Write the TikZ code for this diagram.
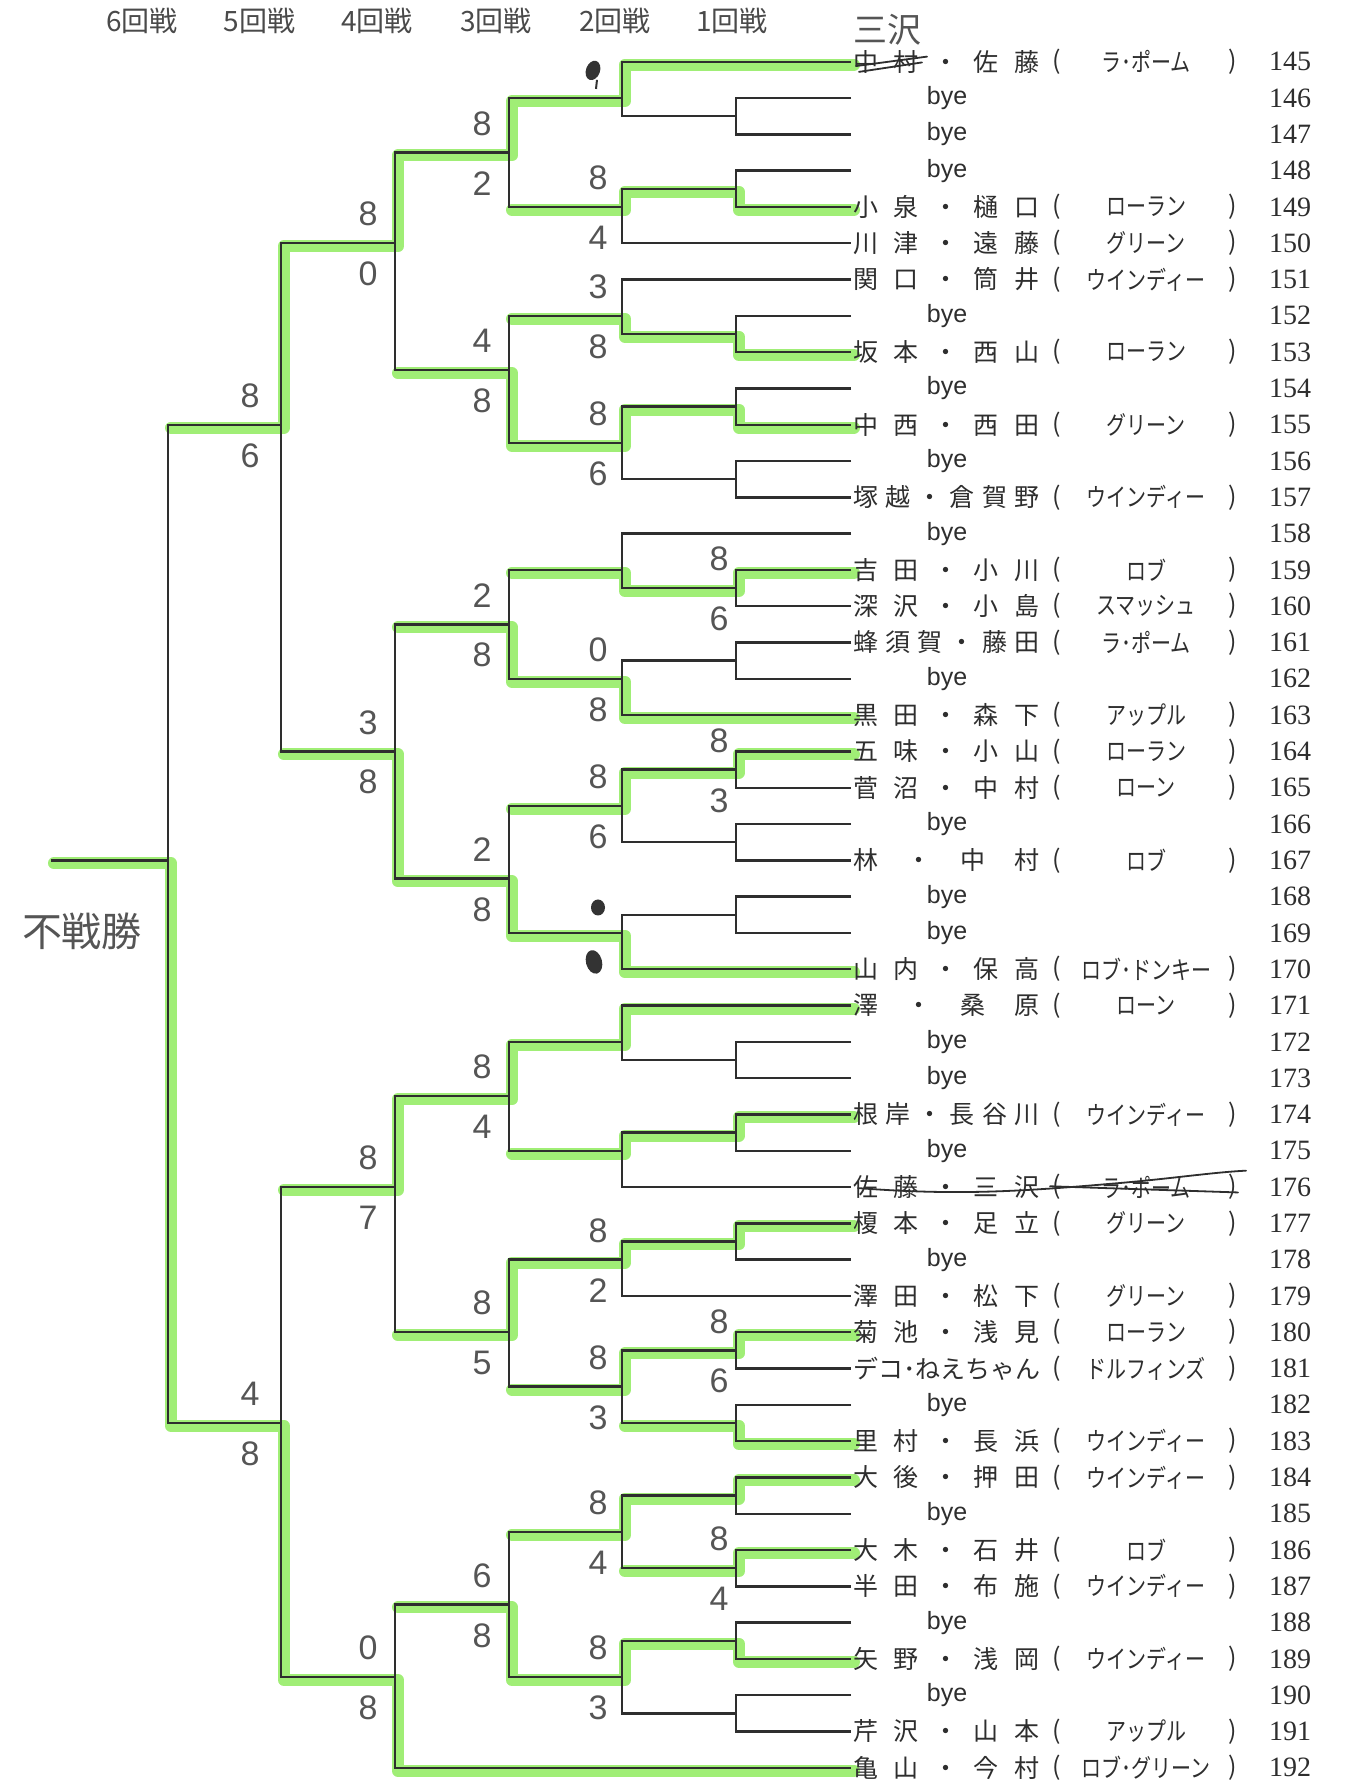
\documentclass[tikz,border=0pt]{standalone}
\usepackage{fontspec}
\usepackage{graphicx}
\usetikzlibrary{calc}
\newfontfamily\jp{Noto Sans CJK JP}
\newfontfamily\lsans{Liberation Sans}
\newfontfamily\lserif{Liberation Serif}
\definecolor{ink}{HTML}{2E2E2E}
\definecolor{hl}{RGB}{160,238,118}
\definecolor{hand}{HTML}{555555}
\definecolor{hdr}{HTML}{4A4A4A}
\tikzset{
 bline/.style={draw=ink, line width=2.4pt, line join=miter},
 hlline/.style={draw=hl, line width=12pt, line cap=round, line join=round},
 namebox/.style={anchor=west, inner sep=0pt, text=ink, font=\jp\fontsize{25pt}{25pt}\selectfont},
 jptext/.style={inner sep=0pt, text=ink, font=\jp\fontsize{25pt}{25pt}\selectfont},
 numlab/.style={inner sep=0pt, text=ink, font=\lserif\fontsize{28pt}{28pt}\selectfont},
 byelab/.style={inner sep=0pt, text=ink, font=\lsans\fontsize{25pt}{25pt}\selectfont},
 score/.style={inner sep=0pt, text=hand, font=\lsans\fontsize{34pt}{34pt}\selectfont},
 hdrlab/.style={inner sep=0pt, text=hdr, font=\jp\fontsize{28pt}{28pt}\selectfont},
 handjp/.style={inner sep=0pt, text=hand, font=\jp\fontsize{34pt}{34pt}\selectfont},
 strike/.style={draw=ink, line width=1.8pt, line cap=round},
}
\newcommand{\entry}[3]{%
  \node[namebox] (nm#1) at (853,#1) {\makebox[186pt][s]{#2}};
  \node[jptext] (pl#1) at (1057,#1) {(};
  \node[jptext] (tm#1) at (1146,#1) {\scalebox{0.8}[1]{#3}};
  \node[jptext] (pr#1) at (1233,#1) {)};
  \node[numlab] (no#1) at (1290,#1) {\number\numexpr145+#1\relax};
}
\newcommand{\byeentry}[1]{%
  \node[byelab] (by#1) at (947,#1) {bye};
  \node[numlab] (no#1) at (1290,#1) {\number\numexpr145+#1\relax};
}
\newcommand{\match}[3]{\draw[bline] (#2) -- (#2 -| #1) -- (#3 -| #1) -- (#3);}
\newcommand{\scorepair}[4]{%
  \node[score] (#1u) at ($(#1)+(-#2,-0.8)$) {#3};
  \node[score] (#1l) at ($(#1)+(-#2,0.85)$) {#4};
}
\begin{document}
\begin{tikzpicture}[x=1pt,y=-36.3pt]
\useasboundingbox[fill=white] (0,-1.6997) rectangle (1350,47.364);
% row ends
\foreach \i in {0,...,47} {\coordinate (r\i) at (851,\i);}
% round 1
\coordinate (a1) at (736,1.5);  \coordinate (a2) at (736,3.5);
\coordinate (a3) at (736,7.5);  \coordinate (a4) at (736,9.5);
\coordinate (a5) at (736,11.5); \coordinate (a6) at (736,14.5);
\coordinate (a7) at (736,16.5); \coordinate (a8) at (736,19.5);
\coordinate (a9) at (736,21.5); \coordinate (a10) at (736,23.5);
\coordinate (a11) at (736,27.5); \coordinate (a12) at (736,29.5);
\coordinate (a13) at (736,32.5); \coordinate (a14) at (736,35.5);
\coordinate (a15) at (736,37.5); \coordinate (a16) at (736,39.5);
\coordinate (a17) at (736,41.5); \coordinate (a18) at (736,43.5);
\coordinate (a19) at (736,45.5);
% round 2
\coordinate (b1) at (622,1.0);  \coordinate (b2) at (622,4.0);
\coordinate (b3) at (622,7.0);  \coordinate (b4) at (622,10.5);
\coordinate (b5) at (622,14.0); \coordinate (b6) at (622,17.0);
\coordinate (b7) at (622,20.5); \coordinate (b8) at (622,24.0);
\coordinate (b9) at (622,27.0); \coordinate (b10) at (622,30.0);
\coordinate (b11) at (622,33.0); \coordinate (b12) at (622,36.5);
\coordinate (b13) at (622,40.5); \coordinate (b14) at (622,44.5);
% round 3
\coordinate (c1) at (509,2.5);  \coordinate (c2) at (509,8.5);
\coordinate (c3) at (509,15.5); \coordinate (c4) at (509,22.5);
\coordinate (c5) at (509,28.5); \coordinate (c6) at (509,35.0);
\coordinate (c7) at (509,42.5);
% round 4
\coordinate (d1) at (395,5.0);  \coordinate (d2) at (395,19.0);
\coordinate (d3) at (395,31.0); \coordinate (d4) at (395,44.5);
% round 5, 6
\coordinate (e1) at (281,10.0); \coordinate (e2) at (281,37.5);
\coordinate (f) at (168,22.0);
\coordinate (champ) at (51,22.0);

% ---------- highlighter ----------
\begin{scope}[transform canvas={xshift=3pt,yshift=-3pt}]
\draw[hlline] (r0) -- (r0 -| b1) -- (b1) -- (b1 -| c1) -- (c1) -- (c1 -| d1) -- (d1) -- (d1 -| e1) -- (e1) -- (e1 -| f);
\draw[hlline] (r4) -- (r4 -| a2) -- (a2) -- (a2 -| b2) -- (b2) -- (b2 -| c1);
\draw[hlline] (r8) -- (r8 -| a3) -- (a3) -- (a3 -| b3) -- (b3) -- (b3 -| c2);
\draw[hlline] (r10) -- (r10 -| a4) -- (a4) -- (a4 -| b4) -- (b4) -- (b4 -| c2) -- (c2) -- (c2 -| d1);
\draw[hlline] (r14) -- (r14 -| a6) -- (a6) -- (a6 -| b5) -- (b5) -- (b5 -| c3);
\draw[hlline] (r18) -- (r18 -| b6) -- (b6) -- (b6 -| c3) -- (c3) -- (c3 -| d2);
\draw[hlline] (r19) -- (r19 -| a8) -- (a8) -- (a8 -| b7) -- (b7) -- (b7 -| c4);
\draw[hlline] (r25) -- (r25 -| b8) -- (b8) -- (b8 -| c4) -- (c4) -- (c4 -| d2) -- (d2) -- (d2 -| e1);
\draw[hlline] (r26) -- (r26 -| b9) -- (b9) -- (b9 -| c5) -- (c5) -- (c5 -| d3) -- (d3) -- (d3 -| e2);
\draw[hlline] (r29) -- (r29 -| a12) -- (a12) -- (a12 -| b10) -- (b10) -- (b10 -| c5);
\draw[hlline] (r32) -- (r32 -| a13) -- (a13) -- (a13 -| b11) -- (b11) -- (b11 -| c6) -- (c6) -- (c6 -| d3);
\draw[hlline] (r35) -- (r35 -| a14) -- (a14) -- (a14 -| b12) -- (b12) -- (b12 -| c6);
\draw[hlline] (r38) -- (r38 -| a15) -- (a15) -- (a15 -| b12);
\draw[hlline] (r39) -- (r39 -| a16) -- (a16) -- (a16 -| b13) -- (b13) -- (b13 -| c7);
\draw[hlline] (r41) -- (r41 -| a17) -- (a17) -- (a17 -| b13);
\draw[hlline] (r44) -- (r44 -| a18) -- (a18) -- (a18 -| b14) -- (b14) -- (b14 -| c7) -- (c7) -- (c7 -| d4);
\draw[hlline] (r47) -- (r47 -| d4) -- (d4) -- (d4 -| e2) -- (e2) -- (e2 -| f) -- (f) -- (champ);
\end{scope}

% ---------- bracket ----------
\match{a1}{r1}{r2}   \match{a2}{r3}{r4}   \match{a3}{r7}{r8}
\match{a4}{r9}{r10}  \match{a5}{r11}{r12} \match{a6}{r14}{r15}
\match{a7}{r16}{r17} \match{a8}{r19}{r20} \match{a9}{r21}{r22}
\match{a10}{r23}{r24} \match{a11}{r27}{r28} \match{a12}{r29}{r30}
\match{a13}{r32}{r33} \match{a14}{r35}{r36} \match{a15}{r37}{r38}
\match{a16}{r39}{r40} \match{a17}{r41}{r42} \match{a18}{r43}{r44}
\match{a19}{r45}{r46}
\match{b1}{r0}{a1}   \match{b2}{a2}{r5}   \match{b3}{r6}{a3}
\match{b4}{a4}{a5}   \match{b5}{r13}{a6}  \match{b6}{a7}{r18}
\match{b7}{a8}{a9}   \match{b8}{a10}{r25} \match{b9}{r26}{a11}
\match{b10}{a12}{r31} \match{b11}{a13}{r34} \match{b12}{a14}{a15}
\match{b13}{a16}{a17} \match{b14}{a18}{a19}
\match{c1}{b1}{b2} \match{c2}{b3}{b4} \match{c3}{b5}{b6} \match{c4}{b7}{b8}
\match{c5}{b9}{b10} \match{c6}{b11}{b12} \match{c7}{b13}{b14}
\match{d1}{c1}{c2} \match{d2}{c3}{c4} \match{d3}{c5}{c6} \match{d4}{c7}{r47}
\match{e1}{d1}{d2} \match{e2}{d3}{d4}
\match{f}{e1}{e2}
\draw[bline] (f) -- (champ);

% ---------- header ----------
\node[hdrlab] (h6) at (142,-1.135) {6回戦};
\node[hdrlab] (h5) at (259.5,-1.135) {5回戦};
\node[hdrlab] (h4) at (377,-1.135) {4回戦};
\node[hdrlab] (h3) at (496,-1.135) {3回戦};
\node[hdrlab] (h2) at (615,-1.135) {2回戦};
\node[hdrlab] (h1) at (732,-1.135) {1回戦};

% ---------- entries ----------
\entry{0}{中\hfill 村\hfill ・\hfill 佐\hfill 藤}{ラ･ポーム}
\byeentry{1} \byeentry{2} \byeentry{3}
\entry{4}{小\hfill 泉\hfill ・\hfill 樋\hfill 口}{ローラン}
\entry{5}{川\hfill 津\hfill ・\hfill 遠\hfill 藤}{グリーン}
\entry{6}{関\hfill 口\hfill ・\hfill 筒\hfill 井}{ウインディー}
\byeentry{7}
\entry{8}{坂\hfill 本\hfill ・\hfill 西\hfill 山}{ローラン}
\byeentry{9}
\entry{10}{中\hfill 西\hfill ・\hfill 西\hfill 田}{グリーン}
\byeentry{11}
\entry{12}{塚\hfill 越\hfill ・\hfill 倉\hfill 賀\hfill 野}{ウインディー}
\byeentry{13}
\entry{14}{吉\hfill 田\hfill ・\hfill 小\hfill 川}{ロブ}
\entry{15}{深\hfill 沢\hfill ・\hfill 小\hfill 島}{スマッシュ}
\entry{16}{蜂\hfill 須\hfill 賀\hfill ・\hfill 藤\hfill 田}{ラ･ポーム}
\byeentry{17}
\entry{18}{黒\hfill 田\hfill ・\hfill 森\hfill 下}{アップル}
\entry{19}{五\hfill 味\hfill ・\hfill 小\hfill 山}{ローラン}
\entry{20}{菅\hfill 沼\hfill ・\hfill 中\hfill 村}{ローン}
\byeentry{21}
\entry{22}{林\hfill ・\hfill 中\hfill 村}{ロブ}
\byeentry{23} \byeentry{24}
\entry{25}{山\hfill 内\hfill ・\hfill 保\hfill 高}{ロブ･ドンキー}
\entry{26}{澤\hfill ・\hfill 桑\hfill 原}{ローン}
\byeentry{27} \byeentry{28}
\entry{29}{根\hfill 岸\hfill ・\hfill 長\hfill 谷\hfill 川}{ウインディー}
\byeentry{30}
\entry{31}{佐\hfill 藤\hfill ・\hfill 三\hfill 沢}{ラ･ポーム}
\entry{32}{榎\hfill 本\hfill ・\hfill 足\hfill 立}{グリーン}
\byeentry{33}
\entry{34}{澤\hfill 田\hfill ・\hfill 松\hfill 下}{グリーン}
\entry{35}{菊\hfill 池\hfill ・\hfill 浅\hfill 見}{ローラン}
\entry{36}{デ\hfill コ\hfill ･\hfill ね\hfill え\hfill ち\hfill ゃ\hfill ん}{ドルフィンズ}
\byeentry{37}
\entry{38}{里\hfill 村\hfill ・\hfill 長\hfill 浜}{ウインディー}
\entry{39}{大\hfill 後\hfill ・\hfill 押\hfill 田}{ウインディー}
\byeentry{40}
\entry{41}{大\hfill 木\hfill ・\hfill 石\hfill 井}{ロブ}
\entry{42}{半\hfill 田\hfill ・\hfill 布\hfill 施}{ウインディー}
\byeentry{43}
\entry{44}{矢\hfill 野\hfill ・\hfill 浅\hfill 岡}{ウインディー}
\byeentry{45}
\entry{46}{芹\hfill 沢\hfill ・\hfill 山\hfill 本}{アップル}
\entry{47}{亀\hfill 山\hfill ・\hfill 今\hfill 村}{ロブ･グリーン}

% ---------- handwritten scores ----------
\scorepair{b2}{24}{8}{4}   \scorepair{c1}{27}{8}{2}   \scorepair{d1}{27}{8}{0}
\scorepair{b3}{24}{3}{8}   \scorepair{c2}{27}{4}{8}   \scorepair{e1}{31}{8}{6}
\scorepair{b4}{24}{8}{6}   \scorepair{a6}{17}{8}{6}   \scorepair{c3}{27}{2}{8}
\scorepair{b6}{24}{0}{8}   \scorepair{d2}{27}{3}{8}   \scorepair{a8}{17}{8}{3}
\scorepair{b7}{24}{8}{6}   \scorepair{c4}{27}{2}{8}   \scorepair{c5}{27}{8}{4}
\scorepair{d3}{27}{8}{7}   \scorepair{b11}{24}{8}{2}  \scorepair{c6}{27}{8}{5}
\scorepair{a14}{17}{8}{6}  \scorepair{b12}{24}{8}{3}  \scorepair{e2}{31}{4}{8}
\scorepair{b13}{24}{8}{4}  \scorepair{a17}{17}{8}{4}  \scorepair{c7}{27}{6}{8}
\scorepair{b14}{24}{8}{3}  \scorepair{d4}{27}{0}{8}
% blacked-out marks
\fill[hand!60!black, rotate around={-20:(593,0.24)}] (593,0.24) ellipse (7pt and 10pt);
\draw[hand!60!black, line width=2pt] (597,0.5) -- (596,0.75);
\fill[hand!60!black] (598,23.3) ellipse (7pt and 8pt);
\fill[hand!60!black, rotate around={15:(594,24.8)}] (594,24.8) ellipse (8pt and 12pt);

% ---------- handwritten notes & strike-outs ----------
\node[handjp] (misawa) at (887,-0.87) {三沢};
\draw[strike] (856,0.12) -- (927,-0.14);
\draw[strike] (859,0.28) -- (922,0.02);
\draw[strike] (858,31.03) .. controls (950,31.22) and (1010,31.15) .. (1107,30.92) .. controls (1170,30.78) and (1210,30.6) .. (1246,30.55);
\draw[strike] (1050,30.98) -- (1238,31.15);
\node[handjp, font=\jp\fontsize{40pt}{40pt}\selectfont] (fusen) at (82,23.95) {不戦勝};
\end{tikzpicture}
\end{document}
